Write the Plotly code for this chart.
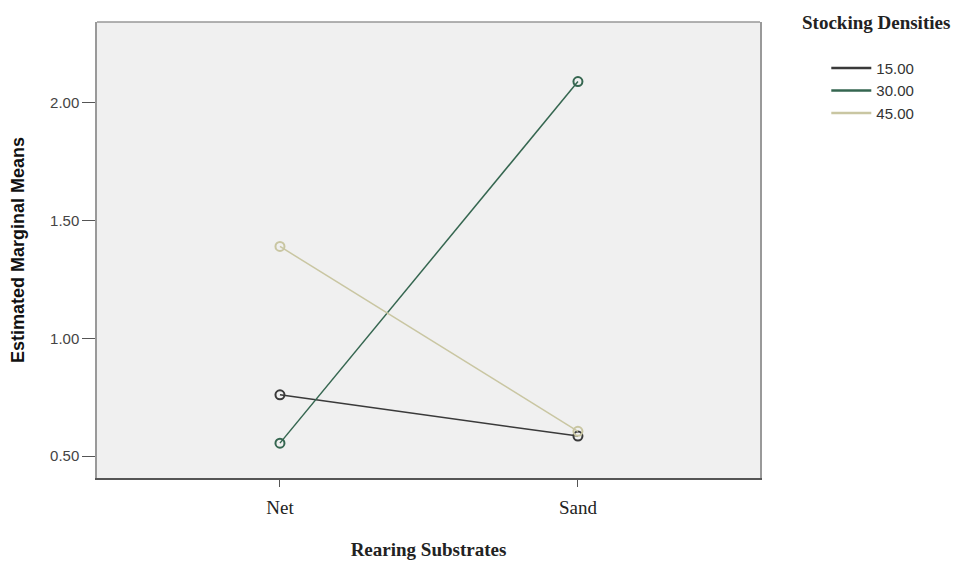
import plotly.graph_objects as go

categories = ["Net", "Sand"]
densities = ["15.00", "30.00", "45.00"]
values_15 = [0.76, 0.585]
values_30 = [0.555, 2.09]
values_45 = [1.39, 0.605]
series_values = [values_15, values_30, values_45]
colors = ["#3a3a3a", "#356650", "#c9c6a2"]
y_ticks = [0.5, 1.0, 1.5, 2.0]
y_tick_labels = ["0.50", "1.00", "1.50", "2.00"]

fig = go.Figure()
for name, vals, col in zip(densities, series_values, colors):
    fig.add_trace(go.Scatter(
        x=[0, 1], y=vals, mode="lines+markers", showlegend=False,
        line=dict(color=col, width=1.5),
        marker=dict(symbol="circle-open", size=9, color=col, line=dict(width=2, color=col)),
    ))
for name, col in zip(densities, colors):
    fig.add_trace(go.Scatter(
        x=[None], y=[None], mode="lines", name=name,
        line=dict(color=col, width=2.5),
    ))

fig.update_layout(
    width=959, height=563,
    margin=dict(l=89, r=207, t=14, b=93, autoexpand=False),
    paper_bgcolor="white", plot_bgcolor="#f0f0f0",
    xaxis=dict(
        range=[-0.614, 1.611], tickvals=[0, 1], ticktext=categories,
        showgrid=False, zeroline=False, showline=True, linecolor="#555555", linewidth=2,
        ticks="outside", ticklen=7, tickcolor="#555555", ticklabelstandoff=4,
        automargin=False,
        tickfont=dict(family="Liberation Serif", size=19, color="#222222"),
        title=dict(text="<b>Rearing Substrates</b>", standoff=26,
                   font=dict(family="Liberation Serif", size=19, color="#222222")),
    ),
    yaxis=dict(
        range=[0.407, 2.343], tickvals=y_ticks, ticktext=y_tick_labels,
        showgrid=False, zeroline=False, showline=True, linecolor="#999999", linewidth=1.5,
        mirror=True, automargin=False,
        ticks="outside", ticklen=13, tickcolor="#555555",
        tickfont=dict(family="Liberation Sans", size=15, color="#444444"),
        title=dict(text="<b>Estimated Marginal Means</b>", standoff=25,
                   font=dict(family="Liberation Sans", size=18, color="#111111")),
    ),
    legend=dict(
        x=1.1, y=0.935, xanchor="left", yanchor="top",
        font=dict(family="Liberation Sans", size=15, color="#333333"),
        bgcolor="rgba(0,0,0,0)", tracegroupgap=0, itemwidth=40,
    ),
    annotations=[dict(
        text="<b>Stocking Densities</b>", xref="paper", yref="paper",
        x=1.175, y=1.0, xanchor="center", yanchor="middle", showarrow=False,
        font=dict(family="Liberation Serif", size=19, color="#222222"),
    )],
    shapes=[dict(type="line", xref="paper", yref="paper", x0=0, x1=1, y0=1, y1=1,
                 line=dict(color="#999999", width=1.5))],
)

fig.write_html("out.html")
